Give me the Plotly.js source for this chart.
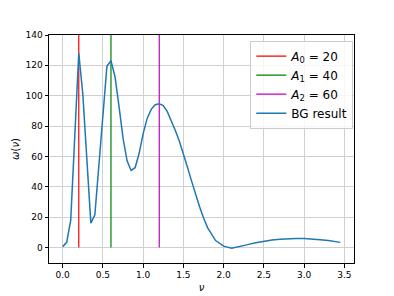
<!DOCTYPE html>
<html>
<head>
<meta charset="utf-8">
<script src="https://cdn.plot.ly/plotly-3.0.1.min.js"></script>
<style>html,body{margin:0;padding:0;background:#fff;}#chart{width:394px;height:296px;}</style>
</head>
<body>
<div id="chart"></div>
<script>
const nu = [0, 0.05, 0.1, 0.15, 0.2, 0.25, 0.3, 0.35, 0.4, 0.45, 0.5, 0.55, 0.6, 0.65, 0.7, 0.75, 0.8, 0.85, 0.9, 0.95, 1.0, 1.05, 1.1, 1.15, 1.2, 1.25, 1.3, 1.35, 1.4, 1.45, 1.5, 1.55, 1.6, 1.65, 1.7, 1.75, 1.8, 1.9, 2.0, 2.1, 2.2, 2.3, 2.4, 2.5, 2.6, 2.7, 2.8, 2.9, 3.0, 3.1, 3.2, 3.3, 3.4, 3.45];
const omega = [0.5, 3.3, 18, 74, 128, 101, 58, 16, 21.5, 55, 88, 119.6, 123, 112.6, 93, 72, 57, 50.7, 52.5, 62, 75, 85, 91, 94, 94.6, 93.5, 89.5, 83.5, 77, 70, 62, 53, 44, 35, 27, 19.5, 13, 4.5, 0.8, -0.5, 0.5, 1.8, 3, 4, 4.8, 5.4, 5.8, 5.9, 5.9, 5.6, 5.1, 4.5, 3.7, 3.3];
const peakPos = [0.2, 0.6, 1.2];
const peakAmp = [20, 40, 60];
const peakNames = ["<i>A</i><sub>0</sub> = 20", "<i>A</i><sub>1</sub> = 40", "<i>A</i><sub>2</sub> = 60"];
const peakColors = ["#ff0000", "#008000", "#bf00bf"];
const vlineSpan = [0, 140];
const xTicks = [0, 0.5, 1, 1.5, 2, 2.5, 3, 3.5];
const xTickText = ["0.0", "0.5", "1.0", "1.5", "2.0", "2.5", "3.0", "3.5"];
const yTicks = [0, 20, 40, 60, 80, 100, 120, 140];

const traces = peakPos.map((p, i) => ({
  x: [p, p], y: vlineSpan, mode: 'lines', name: peakNames[i],
  line: {color: peakColors[i], width: 1.2}
}));
traces.push({
  x: nu, y: omega, mode: 'lines', name: 'BG result',
  line: {color: '#1f77b4', width: 1.5},
  error_y: {type: 'constant', value: 0, width: 0, thickness: 1.5, color: '#1f77b4'}
});

const layout = {
  width: 394, height: 296,
  margin: {l: 49, r: 40, t: 35, b: 33, pad: 0},
  paper_bgcolor: '#fff', plot_bgcolor: '#fff',
  font: {family: 'DejaVu Sans', size: 9, color: '#000'},
  showlegend: true,
  legend: {
    x: 0.66, y: 0.975, xanchor: 'left', yanchor: 'top',
    bgcolor: 'rgba(255,255,255,0.8)', bordercolor: '#cccccc', borderwidth: 1,
    font: {family: 'DejaVu Sans', size: 12, color: '#000'},
    tracegroupgap: 0, itemwidth: 30
  },
  xaxis: {
    range: [-0.17, 3.62], tickvals: xTicks, ticktext: xTickText,
    showgrid: true, gridcolor: '#d0d0d0', gridwidth: 1,
    zeroline: false, showline: true, linecolor: '#000', linewidth: 1, mirror: true,
    ticks: 'outside', ticklen: 3.5, tickcolor: '#000',
    title: {text: '<i>ν</i>', font: {family: 'DejaVu Sans', size: 10}, standoff: 4}
  },
  yaxis: {
    range: [-10.3, 140], tickvals: yTicks,
    showgrid: true, gridcolor: '#d0d0d0', gridwidth: 1,
    zeroline: false, showline: true, linecolor: '#000', linewidth: 1, mirror: true,
    ticks: 'outside', ticklen: 3.5, tickcolor: '#000',
    title: {text: '<i>ω</i>(<i>ν</i>)', font: {family: 'DejaVu Sans', size: 10}, standoff: 4}
  }
};
Plotly.newPlot('chart', traces, layout, {displayModeBar: false, staticPlot: true});
</script>
</body>
</html>
